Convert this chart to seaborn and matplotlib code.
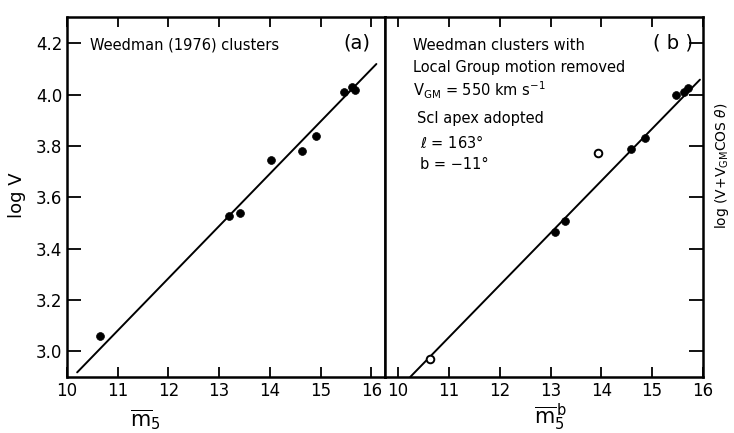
import matplotlib
matplotlib.use("Agg")
import matplotlib.pyplot as plt
import seaborn as sns
import pandas as pd

# ---- data ----
# panel (a): Weedman (1976) clusters
a_m5 = [10.65, 13.20, 13.41, 14.02, 14.63, 14.91, 15.46, 15.62, 15.68]
a_logv = [3.058, 3.527, 3.537, 3.745, 3.780, 3.838, 4.010, 4.028, 4.018]
a_fit_m = [10.20, 16.10]
a_fit_logv = [2.918, 4.119]

# panel (b): Local Group motion removed
b_filled_m5 = [13.09, 13.29, 14.59, 14.85, 15.47, 15.62, 15.71]
b_filled_logv = [3.465, 3.508, 3.786, 3.832, 3.998, 4.011, 4.025]
b_open_m5 = [10.63, 13.94]
b_open_logv = [2.972, 3.771]
b_fit_m = [10.24, 15.94]
b_fit_logv = [2.900, 4.058]

xticks = [10, 11, 12, 13, 14, 15, 16]
yticks = [3.0, 3.2, 3.4, 3.6, 3.8, 4.0, 4.2]
ytick_labels = ["3.0", "3.2", "3.4", "3.6", "3.8", "4.0", "4.2"]

sns.set_style("ticks")
plt.rcParams['font.family'] = ['DejaVu Sans']
plt.rcParams['mathtext.fontset'] = 'dejavusans'
plt.rcParams['text.color'] = 'black'
plt.rcParams['axes.labelcolor'] = 'black'
plt.rcParams['xtick.color'] = 'black'
plt.rcParams['ytick.color'] = 'black'

fig = plt.figure(figsize=(7.34, 4.33), dpi=100)
W, H = 734, 433
axA = fig.add_axes([67 / W, (H - 377) / H, 318 / W, 360 / H])
axB = fig.add_axes([385 / W, (H - 377) / H, 318 / W, 360 / H])

dfA = pd.DataFrame({"m": a_m5, "v": a_logv})
dfAfit = pd.DataFrame({"m": a_fit_m, "v": a_fit_logv})
dfBf = pd.DataFrame({"m": b_filled_m5, "v": b_filled_logv})
dfBo = pd.DataFrame({"m": b_open_m5, "v": b_open_logv})
dfBfit = pd.DataFrame({"m": b_fit_m, "v": b_fit_logv})

sns.lineplot(data=dfAfit, x="m", y="v", ax=axA, color="black", lw=1.4)
sns.scatterplot(data=dfA, x="m", y="v", ax=axA, color="black", s=32,
                edgecolor="black", linewidth=0.5, zorder=3)

sns.lineplot(data=dfBfit, x="m", y="v", ax=axB, color="black", lw=1.4)
sns.scatterplot(data=dfBf, x="m", y="v", ax=axB, color="black", s=32,
                edgecolor="black", linewidth=0.5, zorder=3)
sns.scatterplot(data=dfBo, x="m", y="v", ax=axB, color="white", s=30,
                edgecolor="black", linewidth=1.4, zorder=3)

for ax in (axA, axB):
    ax.set_ylim(2.9, 4.302)
    ax.set_xticks(xticks)
    ax.set_xticklabels([str(t) for t in xticks])
    ax.set_yticks(yticks)
    for s in ax.spines.values():
        s.set_linewidth(1.8)
        s.set_color("black")
    ax.tick_params(direction="in", length=7, width=1.3, labelsize=12,
                   colors="black", top=True, bottom=True)

axA.set_xlim(10.0, 16.27)
axB.set_xlim(9.744, 16.0)

axA.set_yticklabels(ytick_labels)
axA.tick_params(axis="y", left=True, right=False, labelleft=True, labelright=False, length=10)
axB.tick_params(axis="y", left=False, right=True, labelleft=False, labelright=False, length=10)

axA.set_xlabel(r"$\overline{\rm m}_5$", fontsize=15)
axA.xaxis.set_label_coords(0.245, -0.085)
axA.set_ylabel("log V", fontsize=13)
axA.yaxis.set_label_coords(-0.13, 0.506)

axB.set_xlabel(r"$\overline{\rm m}_5^{\,\rm b}$", fontsize=15)
axB.xaxis.set_label_coords(0.52, -0.07)
axB.set_ylabel(r"log (V$+$V$_{\rm GM}$COS $\theta$)", fontsize=10)
axB.yaxis.set_label_position("right")
axB.yaxis.set_label_coords(1.032, 0.586)

fs = 10.5
axA.text(0.072, 0.922, "Weedman (1976) clusters", transform=axA.transAxes,
         fontsize=fs, va="center", ha="left")
axA.text(0.912, 0.928, "(a)", transform=axA.transAxes, fontsize=14,
         va="center", ha="center")

axB.text(0.906, 0.928, "( b )", transform=axB.transAxes, fontsize=14,
         va="center", ha="center")
axB.text(0.088, 0.922, "Weedman clusters with", transform=axB.transAxes,
         fontsize=fs, va="center", ha="left")
axB.text(0.088, 0.861, "Local Group motion removed", transform=axB.transAxes,
         fontsize=fs, va="center", ha="left")
axB.text(0.088, 0.797, r"V$_{\rm GM}$ = 550 km s$^{-1}$", transform=axB.transAxes,
         fontsize=fs, va="center", ha="left")
axB.text(0.101, 0.717, "ScI apex adopted", transform=axB.transAxes,
         fontsize=fs, va="center", ha="left")
axB.text(0.11, 0.652, r"$\ell$ = 163°", transform=axB.transAxes,
         fontsize=fs, va="center", ha="left")
axB.text(0.11, 0.589, "b = \u221211°", transform=axB.transAxes,
         fontsize=fs, va="center", ha="left")

fig.savefig("out.png", dpi=100, facecolor="white")
